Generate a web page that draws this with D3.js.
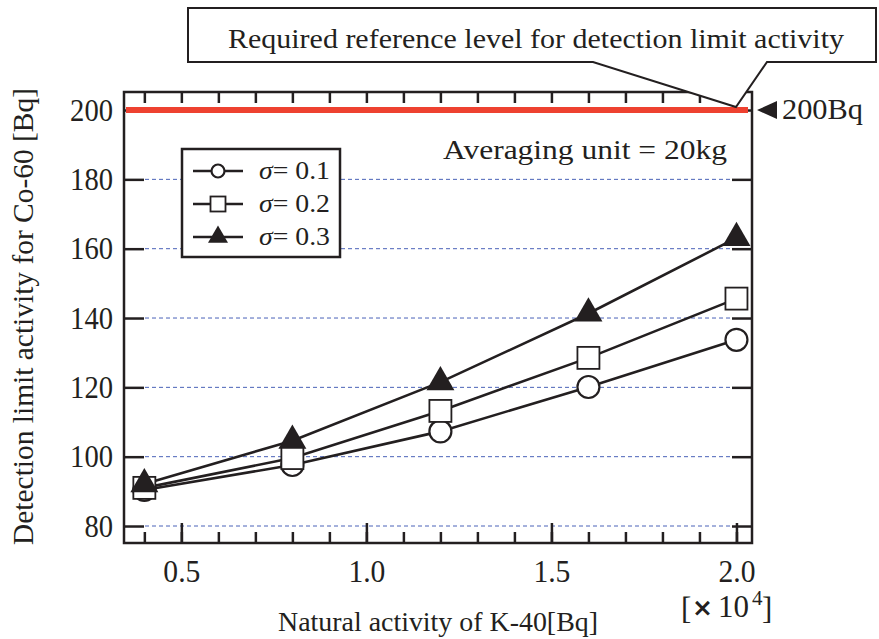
<!DOCTYPE html>
<html>
<head>
<meta charset="utf-8">
<script src="https://cdn.jsdelivr.net/npm/d3@7"></script>
<style>
  body { margin: 0; background: #fff; }
  svg { display: block; }
  text { font-family: "Liberation Serif", "Times New Roman", serif; fill: #231f20; }
</style>
</head>
<body>
<svg id="chart" width="879" height="639"></svg>
<script>
// activity of K-40, units of 10^4 Bq
var kActivity = [0.4, 0.8, 1.2, 1.6, 2.0];
// detection limit for Co-60 [Bq] at each sigma
var sigma01 = [90.4, 97.6, 107.3, 120.1, 133.7];
var sigma02 = [91.0, 99.6, 113.2, 128.5, 145.6];
var sigma03 = [92.1, 104.6, 121.5, 141.3, 163.1];
var seriesNames = ["0.1", "0.2", "0.3"];
var seriesMarks = ["circle", "square", "triangle"];
var yTicks = [80, 100, 120, 140, 160, 180, 200];
var xMajor = [0.5, 1.0, 1.5, 2.0];
var xMinor = d3.range(4, 21).map(function (d) { return d / 10; });
var refLevel = 200;

var svg = d3.select("#chart");
var L = 124, R = 752, T = 92, B = 543;
var ink = "#231f20";

var x = d3.scaleLinear().domain([0.345, 2.042]).range([L, R]);
var y = d3.scaleLinear().domain([75.1, 205.2]).range([B, T]);

// fixed width per label (the original font is a narrow Times)
var fit = function (sel, w) {
    sel.attr("textLength", w).attr("lengthAdjust", "spacingAndGlyphs");
};

// dashed grid
svg.append("g").selectAll("line")
    .data(yTicks.filter(function (d) { return d < refLevel; }))
    .enter().append("line")
    .attr("x1", L + 21).attr("x2", R - 21)
    .attr("y1", function (d) { return y(d); })
    .attr("y2", function (d) { return y(d); })
    .attr("stroke", "#4a62b8").attr("stroke-width", 1)
    .attr("stroke-dasharray", "4,3");

// axes, ticks inward
var styleAxis = function (g) {
    g.select(".domain").remove();
    g.selectAll(".tick line").attr("stroke", ink).attr("stroke-width", 2.5);
    g.selectAll(".tick text").style("font-size", "31px").attr("fill", ink);
};
svg.append("g").attr("transform", "translate(0," + B + ")")
    .call(d3.axisBottom(x).tickValues(xMinor).tickSize(-11).tickFormat(""))
    .call(styleAxis);
svg.append("g").attr("transform", "translate(0," + B + ")")
    .call(d3.axisBottom(x).tickValues(xMajor).tickSize(-20).tickFormat(d3.format(".1f")))
    .call(styleAxis)
    .selectAll(".tick text").attr("dy", null).attr("y", 39).call(fit, 37);
svg.append("g").attr("transform", "translate(0," + T + ")")
    .call(d3.axisTop(x).tickValues(xMinor).tickSize(-11).tickFormat(""))
    .call(styleAxis);
svg.append("g").attr("transform", "translate(" + L + ",0)")
    .call(d3.axisLeft(y).tickValues(yTicks).tickSize(-20).tickPadding(11))
    .call(styleAxis)
    .selectAll(".tick text").attr("dy", null).attr("y", 10)
    .each(function (d) { d3.select(this).call(fit, String(d).length * 14.3); });
svg.append("g").attr("transform", "translate(" + R + ",0)")
    .call(d3.axisRight(y).tickValues(yTicks).tickSize(-20).tickFormat(""))
    .call(styleAxis);

svg.append("rect")
    .attr("x", L).attr("y", T).attr("width", R - L).attr("height", B - T)
    .attr("fill", "none").attr("stroke", ink).attr("stroke-width", 2.5);

// reference level
svg.append("line")
    .attr("x1", L + 2).attr("x2", R - 4)
    .attr("y1", y(refLevel)).attr("y2", y(refLevel))
    .attr("stroke", "#ee4130").attr("stroke-width", 6);

// series
var series = [sigma01, sigma02, sigma03];
var line = d3.line()
    .x(function (d, i) { return x(kActivity[i]); })
    .y(function (d) { return y(d); });

svg.append("g").selectAll("path")
    .data(series).enter().append("path")
    .attr("d", line)
    .attr("fill", "none").attr("stroke", ink).attr("stroke-width", 2.6);

var drawMark = function (g, kind, cx, cy, s) {
    if (kind === "circle") {
        g.append("circle").attr("cx", cx).attr("cy", cy).attr("r", s / 2)
            .attr("fill", "#fff").attr("stroke", ink).attr("stroke-width", 2.2);
    } else if (kind === "square") {
        g.append("rect").attr("x", cx - s / 2).attr("y", cy - s / 2)
            .attr("width", s).attr("height", s)
            .attr("fill", "#fff").attr("stroke", ink).attr("stroke-width", 1.8);
    } else {
        var h = s * Math.sqrt(3) / 2;
        g.append("path")
            .attr("d", "M" + cx + "," + (cy - 2 * h / 3) +
                "L" + (cx + s / 2) + "," + (cy + h / 3) +
                "L" + (cx - s / 2) + "," + (cy + h / 3) + "Z")
            .attr("fill", ink);
    }
};

var marks = svg.append("g");
series.forEach(function (vals, si) {
    vals.forEach(function (v, i) {
        var size = seriesMarks[si] === "triangle" ? 28 : 22;
        drawMark(marks, seriesMarks[si], x(kActivity[i]), y(v), size);
    });
});

// legend
var lg = svg.append("g");
lg.append("rect").attr("x", 182).attr("y", 149).attr("width", 158).attr("height", 108)
    .attr("fill", "#fff").attr("stroke", ink).attr("stroke-width", 2.5);
seriesNames.forEach(function (name, i) {
    var ry = 171 + i * 33;
    lg.append("line").attr("x1", 193).attr("x2", 243).attr("y1", ry).attr("y2", ry)
        .attr("stroke", ink).attr("stroke-width", 2.4);
    var size = seriesMarks[i] === "circle" ? 13 : (seriesMarks[i] === "square" ? 15 : 20);
    drawMark(lg, seriesMarks[i], 218, ry, size);
    var t = lg.append("text").attr("x", 259).attr("y", ry + 8).style("font-size", "26px")
        .call(fit, 71);
    t.append("tspan").style("font-style", "italic").text("σ");
    t.append("tspan").text("= " + name);
});

svg.append("text")
    .attr("x", 443).attr("y", 159)
    .style("font-size", "27px")
    .call(fit, 284)
    .text("Averaging unit = 20kg");

// 200Bq marker on the right
svg.append("path")
    .attr("d", "M757," + y(refLevel) + "L777," + (y(refLevel) - 9) + "L777," + (y(refLevel) + 9) + "Z")
    .attr("fill", ink);
svg.append("text").attr("x", 782).attr("y", y(refLevel) + 9)
    .style("font-size", "29px").call(fit, 81).text("200Bq");

// callout box pointing at the reference line
var tip = [x(2.0) - 0.5, y(refLevel) - 3];
svg.append("path")
    .attr("d", "M188,8L876,8L876,62L767,62L" + tip[0] + "," + tip[1] + "L593,62L188,62Z")
    .attr("fill", "#fff").attr("stroke", ink).attr("stroke-width", 2).attr("stroke-linejoin", "miter");
svg.append("text")
    .attr("x", 228).attr("y", 48)
    .style("font-size", "27px")
    .call(fit, 616)
    .text("Required reference level for detection limit activity");

// axis titles
svg.append("text")
    .attr("transform", "translate(33,545) rotate(-90)")
    .style("font-size", "30px")
    .call(fit, 457)
    .text("Detection limit activity for Co-60 [Bq]");

svg.append("text")
    .attr("x", 278).attr("y", 631)
    .style("font-size", "28px")
    .call(fit, 320)
    .text("Natural activity of K-40[Bq]");

// [x10^4] multiplier below the last tick label
var uy = 617;
var unit = svg.append("text").attr("y", uy).style("font-size", "31px");
unit.append("tspan").attr("x", 681).attr("y", uy + 2).text("[");
unit.append("tspan").attr("x", 692).attr("y", uy - 1)
    .style("font-family", "DejaVu Sans, sans-serif").style("font-size", "25px").style("font-weight", "bold")
    .text("×");
unit.append("tspan").attr("x", 718).attr("y", uy).text("10");
unit.append("tspan").attr("x", 752).attr("y", uy - 12).style("font-size", "21px").text("4");
unit.append("tspan").attr("x", 762).attr("y", uy + 2).text("]");
</script>
</body>
</html>
